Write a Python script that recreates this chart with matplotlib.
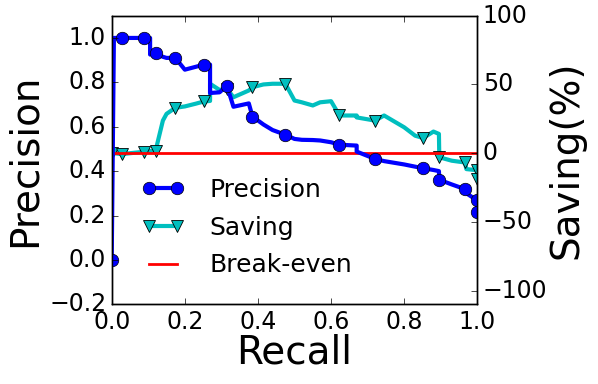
import matplotlib
matplotlib.use("Agg")
import matplotlib.pyplot as plt

plt.style.use("classic")

# recall / precision / saving(%)
recall = [0.0, 0.006, 0.027, 0.088, 0.105, 0.105, 0.12, 0.14, 0.15, 0.174,
          0.2, 0.23, 0.252, 0.269, 0.269, 0.295, 0.315, 0.333, 0.375, 0.385,
          0.415, 0.44, 0.475, 0.50, 0.52, 0.55, 0.57, 0.60, 0.623, 0.67,
          0.67, 0.72, 0.745, 0.80, 0.83, 0.852, 0.88, 0.895, 0.896, 0.93,
          0.966, 0.97, 0.998, 1.0]
precision = [0.0, 1.0, 1.0, 1.0, 1.0, 0.925, 0.932, 0.915, 0.91, 0.91,
             0.857, 0.87, 0.88, 0.88, 0.752, 0.755, 0.785, 0.69, 0.705, 0.646,
             0.61, 0.585, 0.564, 0.545, 0.541, 0.54, 0.538, 0.53, 0.519, 0.515,
             0.488, 0.455, 0.445, 0.43, 0.42, 0.413, 0.405, 0.40, 0.361, 0.34,
             0.319, 0.30, 0.27, 0.218]
saving = [0, 0, -0.7, 1, 1.5, 1.5, 1.8, 23.7, 28.6, 33,
          34, 36, 37.6, 38, 50.5, 46, 47, 40.7, 45.6, 48,
          50, 50.5, 50.5, 38.3, 37, 34.7, 37, 37.8, 27.4, 27.4,
          26, 23.7, 27.4, 18.8, 12.7, 11, 15.7, 14, -3, -5.5,
          -6.8, -11.6, -12.4, -19]
marks = [0, 2, 3, 6, 9, 12, 16, 19, 22, 28, 31, 35, 38, 40, 42, 43]
breakeven = 0

fig = plt.figure(figsize=(5.98, 3.84), dpi=100, facecolor="white")
ax = fig.add_axes([0.1868, 0.2076, 0.6114, 0.7514])
ax2 = ax.twinx()

l1, = ax.plot(recall, precision, "b-o", lw=3, ms=9, markevery=marks,
              label="Precision")
l2, = ax2.plot(recall, saving, "c-v", lw=3, ms=9, markevery=marks,
               mew=0.6, label="Saving")
l3 = ax2.axhline(breakeven, color="r", lw=2, label="Break-even")
ax.set_zorder(ax2.get_zorder() + 1)
ax.patch.set_visible(False)

ax.set_xlim(0, 1.0)
ax.set_ylim(-0.2, 1.1)
ax2.set_ylim(-110, 100)
ax.set_xticks([0.0, 0.2, 0.4, 0.6, 0.8, 1.0])
ax.set_yticks([-0.2, 0.0, 0.2, 0.4, 0.6, 0.8, 1.0])
ax2.set_yticks([-100, -50, 0, 50, 100])

ax.tick_params(labelsize=17, direction="in")
ax2.tick_params(labelsize=17, direction="in")
ax.set_xlabel("Recall", fontsize=28, labelpad=0)
ax.set_ylabel("Precision", fontsize=28, labelpad=4)
ax2.set_ylabel("Saving(%)", fontsize=28, labelpad=0)

ax.legend([l1, l2, l3], ["Precision", "Saving", "Break-even"],
          loc="lower left", bbox_to_anchor=(0.02, 0.015), frameon=False,
          fontsize=18, numpoints=2, handlelength=1.7, handletextpad=1.0,
          labelspacing=0.55)

fig.savefig("out.png", dpi=100, facecolor="white")
